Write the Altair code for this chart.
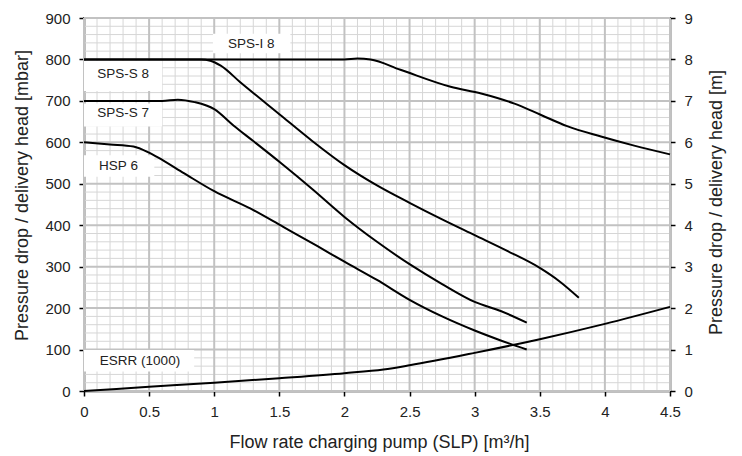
import altair as alt
import pandas as pd

FONT = "Liberation Sans"

# ---- axis ticks / grid positions ----
x_ticks = [0, 0.5, 1, 1.5, 2, 2.5, 3, 3.5, 4, 4.5]
y_ticks = [0, 100, 200, 300, 400, 500, 600, 700, 800, 900]
y2_ticks = [0, 1, 2, 3, 4, 5, 6, 7, 8, 9]
x_minor = [round(i * 0.1, 1) for i in range(46)]
y_minor = [i * 20 for i in range(46)]

# ---- curves (flow m3/h, pressure mbar) ----
spsi8_x = [0, 1.0, 2.0, 2.1, 2.2, 2.43, 2.815, 3.05, 3.3, 3.51, 3.71, 3.97, 4.225, 4.5]
spsi8_y = [800, 800, 800, 802, 800, 775, 734, 718, 694, 666, 639, 614, 592, 571]

spss8_x = [0, 0.5, 0.9, 0.97, 1.05, 1.2, 1.5, 1.75, 2.0, 2.25, 2.5, 2.75, 3.0, 3.25, 3.5, 3.65, 3.8]
spss8_y = [800, 800, 800, 797, 785, 745, 668, 604, 545, 496, 454, 414, 376, 338, 297, 265, 225]

spss7_x = [0, 0.6, 0.72, 0.85, 1.0, 1.15, 1.3, 1.5, 1.75, 2.0, 2.25, 2.5, 2.75, 3.0, 3.2, 3.4]
spss7_y = [700, 700, 703, 697, 680, 640, 603, 553, 488, 420, 360, 306, 258, 215, 193, 165]

hsp6_x = [0, 0.2, 0.38, 0.5, 0.56, 0.77, 1.0, 1.28, 1.53, 1.79, 2.0, 2.25, 2.5, 2.75, 3.0, 3.2, 3.4]
hsp6_y = [600, 595, 590, 575, 565, 525, 482, 440, 396, 350, 312, 268, 220, 180, 146, 122, 100]

esrr_x = [0, 0.5, 1.0, 1.5, 2.0, 2.3, 2.5, 3.0, 3.5, 4.0, 4.5]
esrr_y = [0, 10, 20, 31, 43, 52, 62, 92, 125, 162, 203]

# ---- curve labels ----
label_text = ["SPS-I 8", "SPS-S 8", "SPS-S 7", "HSP 6", "ESRR (1000)"]
label_x = [1.285, 0.30, 0.30, 0.265, 0.43]
label_y = [837, 766, 670, 543, 73]
box_x1 = [0.99, 0.0, 0.0, 0.0, 0.0]
box_x2 = [1.585, 0.6, 0.6, 0.54, 0.846]
box_y1 = [815, 724, 638, 517, 47]
box_y2 = [862, 796, 694, 569, 99]

rows = []
for name, xs_, ys_ in [("SPS-I 8", spsi8_x, spsi8_y), ("SPS-S 8", spss8_x, spss8_y),
                       ("SPS-S 7", spss7_x, spss7_y), ("HSP 6", hsp6_x, hsp6_y),
                       ("ESRR (1000)", esrr_x, esrr_y)]:
    for i, (a, b) in enumerate(zip(xs_, ys_)):
        rows.append({"series": name, "x": a, "y": b, "o": i})
curves = pd.DataFrame(rows)

labels = pd.DataFrame({"t": label_text, "x": label_x, "y": label_y,
                       "x1": box_x1, "x2": box_x2, "y1": box_y1, "y2": box_y2})

xs = alt.Scale(domain=[0, 4.5], nice=False, zero=False)
ys = alt.Scale(domain=[0, 900], nice=False, zero=False)

minor_x = pd.DataFrame({"v": [v for v in x_minor if abs(v * 2 - round(v * 2)) > 1e-6]})
major_x = pd.DataFrame({"v": x_ticks})
minor_y = pd.DataFrame({"v": [v for v in y_minor if v % 100 != 0]})
major_y = pd.DataFrame({"v": y_ticks})

g_minor_x = alt.Chart(minor_x).mark_rule(color="#d6d6d6", strokeWidth=1).encode(
    x=alt.X("v:Q", scale=xs, axis=None))
g_minor_y = alt.Chart(minor_y).mark_rule(color="#d6d6d6", strokeWidth=1).encode(
    y=alt.Y("v:Q", scale=ys, axis=None))
g_major_x = alt.Chart(major_x).mark_rule(color="#c2c2c2", strokeWidth=2).encode(
    x=alt.X("v:Q", scale=xs, axis=None))
g_major_y = alt.Chart(major_y).mark_rule(color="#c2c2c2", strokeWidth=2).encode(
    y=alt.Y("v:Q", scale=ys, axis=None))

boxes = alt.Chart(labels).mark_rect(color="white").encode(
    x=alt.X("x1:Q", scale=xs, axis=None), x2="x2:Q",
    y=alt.Y("y1:Q", scale=ys, axis=None), y2="y2:Q")

lines = alt.Chart(curves).mark_line(color="black", strokeWidth=2, interpolate="monotone").encode(
    x=alt.X("x:Q", scale=xs,
            axis=alt.Axis(values=x_ticks, format="~g", title="Flow rate charging pump (SLP) [m³/h]",
                          labelPadding=8, labelFlush=False, titleX=295, titleY=56,
                          titleBaseline="alphabetic")),
    y=alt.Y("y:Q", scale=ys,
            axis=alt.Axis(values=y_ticks, title="Pressure drop / delivery head [mbar]",
                          labelPadding=9, titleX=-62, titleY=177, titleAngle=270,
                          titleBaseline="middle")),
    detail="series:N", order="o:Q")

texts = alt.Chart(labels).mark_text(font=FONT, fontSize=13.5, color="#222222",
                                    align="center", baseline="middle").encode(
    x=alt.X("x:Q", scale=xs, axis=None), y=alt.Y("y:Q", scale=ys, axis=None), text="t:N")

right = alt.Chart(pd.DataFrame({"m": [0, 9]})).mark_point(opacity=0).encode(
    y=alt.Y("m:Q", scale=alt.Scale(domain=[0, 9], nice=False, zero=False),
            axis=alt.Axis(orient="right", values=y2_ticks, title="Pressure drop / delivery head [m]",
                          labelPadding=9, titleX=46, titleY=184, titleAngle=270,
                          titleBaseline="middle")))

chart = alt.layer(g_minor_x, g_minor_y, g_major_x, g_major_y, boxes, lines, texts, right).resolve_scale(
    y="independent").resolve_axis(x="independent", y="independent").properties(
    width=586, height=373,
    padding={"left": 76, "top": 10, "right": 62, "bottom": 62},
    autosize=alt.AutoSizeParams(type="none"),
).configure_view(stroke="black", strokeWidth=1.5).configure_axis(
    labelFont=FONT, titleFont=FONT, labelFontSize=15, titleFontSize=18,
    labelColor="#222222", titleColor="#222222", titleFontWeight="normal",
    tickColor="black", domainColor="black", tickSize=5, tickWidth=1.5, domainWidth=1.5,
    grid=False)

chart.save("out.html", embed_options={"renderer": "svg", "actions": False})
